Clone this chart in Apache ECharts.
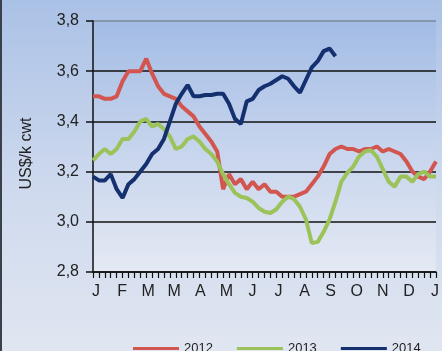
<!DOCTYPE html>
<html>
<head>
<meta charset="utf-8">
<style>
  html, body { margin: 0; padding: 0; background: #ffffff; }
  #chart { width: 442px; height: 351px; }
</style>
<script src="https://cdn.jsdelivr.net/npm/echarts@6/dist/echarts.min.js"></script>
</head>
<body>
<div id="chart"></div>
<script>
// Weekly prices, US$ per k cwt, one value per week from the first week of January
const years = ['2012', '2013', '2014'];

const prices2012 = [
  3.50, 3.50, 3.49, 3.49, 3.50, 3.56, 3.60, 3.60, 3.60, 3.65,
  3.59, 3.54, 3.51, 3.50, 3.49, 3.46, 3.44, 3.42, 3.38, 3.35,
  3.32, 3.28, 3.13, 3.19, 3.15, 3.17, 3.13, 3.16, 3.13, 3.15,
  3.12, 3.12, 3.10, 3.10, 3.10, 3.11, 3.12, 3.15, 3.18, 3.22,
  3.27, 3.29, 3.30, 3.29, 3.29, 3.28, 3.29, 3.29, 3.30, 3.28,
  3.29, 3.28, 3.27, 3.24, 3.20, 3.18, 3.17, 3.20, 3.24
];

const prices2013 = [
  3.245, 3.27, 3.29, 3.27, 3.29, 3.33, 3.33, 3.36, 3.40, 3.41,
  3.38, 3.39, 3.37, 3.34, 3.29, 3.30, 3.33, 3.34, 3.32, 3.29,
  3.27, 3.24, 3.19, 3.15, 3.115, 3.10, 3.095, 3.08, 3.055, 3.04,
  3.035, 3.05, 3.08, 3.10, 3.09, 3.06, 3.01, 2.915, 2.92, 2.96,
  3.01, 3.08, 3.16, 3.195, 3.22, 3.26, 3.28, 3.285, 3.26, 3.21,
  3.16, 3.14, 3.18, 3.18, 3.16, 3.19, 3.20, 3.18, 3.18
];

const prices2014 = [
  3.18, 3.165, 3.165, 3.19, 3.13, 3.095, 3.15, 3.17, 3.20, 3.23,
  3.27, 3.29, 3.33, 3.40, 3.47, 3.51, 3.545, 3.50, 3.50, 3.505,
  3.505, 3.51, 3.51, 3.47, 3.41, 3.39, 3.48, 3.49, 3.525, 3.54,
  3.55, 3.565, 3.58, 3.57, 3.54, 3.515, 3.565, 3.615, 3.64, 3.68,
  3.69, 3.66
];

const monthLabels = ['J', 'F', 'M', 'M', 'A', 'M', 'J', 'J', 'A', 'S', 'O', 'N', 'D', 'J'];

// axis layout in weeks
const WEEK_MAX = 58;
const MONTH_START = 0.5;
const MONTH_STEP = 4.41;
const monthPositions = monthLabels.map((_, i) => +(MONTH_START + MONTH_STEP * i).toFixed(3));
const weekTicks = Array.from({ length: WEEK_MAX + 1 }, (_, i) => i);

const colors = ['#d2554f', '#9cc35a', '#14306f'];
const seriesValues = [prices2012, prices2013, prices2014];

const chart = echarts.init(document.getElementById('chart'), null, { renderer: 'canvas' });

const font = '"Liberation Sans", Arial, sans-serif';

chart.setOption({
  animation: false,
  backgroundColor: {
    type: 'linear', x: 0, y: 0, x2: 0, y2: 1,
    colorStops: [
      { offset: 0, color: '#aac1e6' },
      { offset: 0.55, color: '#cfdaee' },
      { offset: 1, color: '#e0e6f1' }
    ]
  },
  textStyle: { fontFamily: font },
  graphic: [
    { type: 'rect', shape: { x: 0, y: 0, width: 2, height: 351 }, style: { fill: '#3b414b' } }
  ],
  grid: {
    left: 93, right: 2, top: 21, bottom: 79,
    show: true,
    borderWidth: 0,
    backgroundColor: {
      type: 'linear', x: 0, y: 0, x2: 0, y2: 1,
      colorStops: [
        { offset: 0, color: '#a3bce5' },
        { offset: 0.5, color: '#c6d4ed' },
        { offset: 1, color: '#e4e9f3' }
      ]
    }
  },
  legend: {
    data: years,
    left: 128,
    top: 337,
    icon: 'rect',
    itemWidth: 46,
    itemHeight: 3,
    itemGap: 24,
    textStyle: { fontSize: 13, color: '#222', fontFamily: font }
  },
  xAxis: {
    type: 'value',
    min: 0,
    max: WEEK_MAX,
    axisLine: { show: true, lineStyle: { color: '#111', width: 1.5 } },
    axisTick: {
      show: true,
      customValues: weekTicks,
      length: 6,
      lineStyle: { color: '#111', width: 1.2 }
    },
    axisLabel: {
      customValues: monthPositions,
      fontSize: 16,
      color: '#222',
      margin: 12,
      fontFamily: font,
      formatter: v => monthLabels[Math.round((v - MONTH_START) / MONTH_STEP)] || ''
    },
    splitLine: { show: false }
  },
  yAxis: {
    type: 'value',
    min: 2.8,
    max: 3.8,
    interval: 0.2,
    name: 'US$/k cwt',
    nameLocation: 'middle',
    nameGap: 58,
    nameTextStyle: { fontSize: 16, color: '#222', fontFamily: font, padding: [0, 14, 0, 0] },
    axisLine: { show: true, lineStyle: { color: '#111', width: 1.5 } },
    axisTick: { show: true, length: 7, lineStyle: { color: '#111', width: 1.5 } },
    axisLabel: {
      fontSize: 16,
      color: '#222',
      margin: 14,
      fontFamily: font,
      formatter: v => v.toFixed(1).replace('.', ',')
    },
    splitLine: {
      show: true,
      lineStyle: { color: ['#111', '#111', '#111', '#111', '#111', '#7b889b'], width: 1.5 }
    }
  },
  series: years.map((name, k) => ({
    name,
    type: 'line',
    symbol: 'none',
    smooth: false,
    color: colors[k],
    lineStyle: { width: 4, color: colors[k] },
    data: seriesValues[k].map((v, w) => [w, v])
  }))
});
</script>
</body>
</html>
